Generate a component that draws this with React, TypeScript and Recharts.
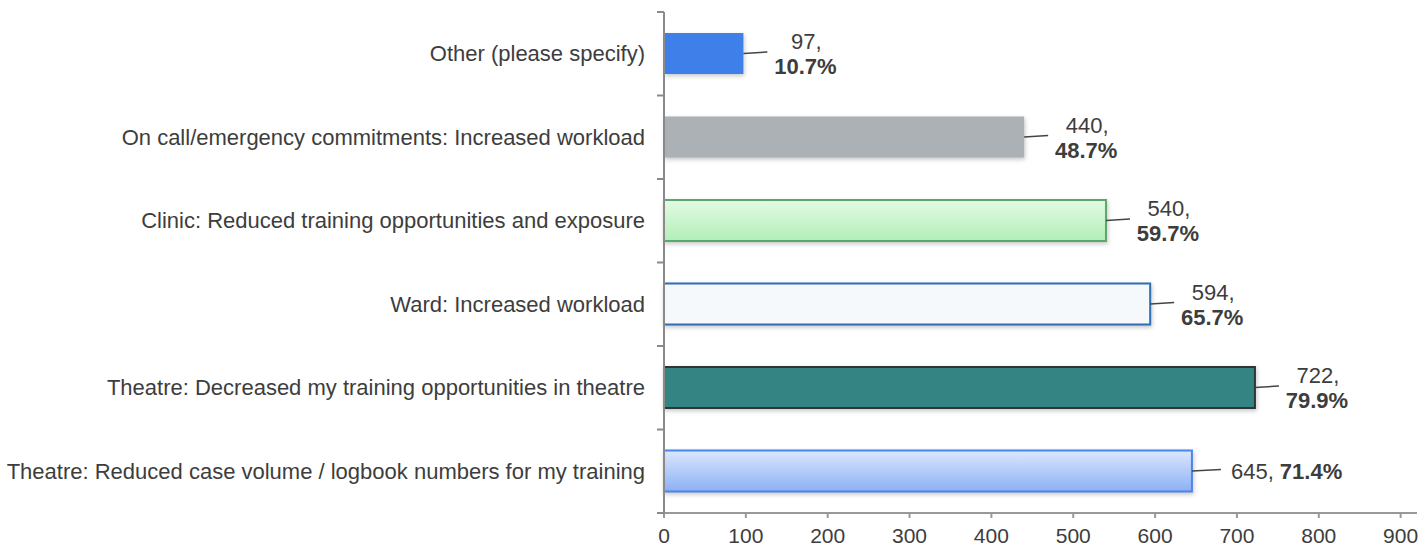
import { BarChart, Bar, XAxis, YAxis, Cell, LabelList } from 'recharts';

// values
const categories = [
  'Other (please specify)',
  'On call/emergency commitments: Increased workload',
  'Clinic: Reduced training opportunities and exposure',
  'Ward: Increased workload',
  'Theatre: Decreased my training opportunities in theatre',
  'Theatre: Reduced case volume / logbook numbers for my training',
];
const counts = [97, 440, 540, 594, 722, 645];
const percents = ['10.7%', '48.7%', '59.7%', '65.7%', '79.9%', '71.4%'];
const xTicks = [0, 100, 200, 300, 400, 500, 600, 700, 800, 900];

const data = categories.map((name, i) => ({ name, count: counts[i], pct: percents[i] }));

const WIDTH = 1428;
const HEIGHT = 547;
const MARGIN = { top: 12, right: 11, bottom: 0, left: 0 };
const X_AXIS_H = 34;
const Y_AXIS_W = 664;
const BAND = (HEIGHT - MARGIN.top - MARGIN.bottom - X_AXIS_H) / categories.length;

const fills = ['#3f7fe9', '#abb1b4', 'url(#gGreen)', '#f6f9fc', '#358484', 'url(#gBlue)'];
const strokes = ['none', 'none', '#5aa86a', '#2f6fb3', '#2d3535', '#4a86e8'];

const TEXT = '#3d3d3d';
const FONT = 'Liberation Sans, Arial, Helvetica, sans-serif';

const CategoryTick = (props: any) => {
  const { x, y, payload, index } = props;
  const top = y - BAND / 2;
  return (
    <g>
      <text x={x - 19} y={y} textAnchor="end" dominantBaseline="central"
        fill={TEXT} fontSize={22} fontFamily={FONT}>
        {payload.value}
      </text>
      <line x1={x - 7} x2={x} y1={top} y2={top} stroke="#8a8a8a" strokeWidth={2} />
      {index === categories.length - 1 && (
        <line x1={x - 7} x2={x} y1={y + BAND / 2} y2={y + BAND / 2} stroke="#8a8a8a" strokeWidth={2} />
      )}
    </g>
  );
};

const ValueLabel = (props: any) => {
  const { x, y, width, height, index } = props;
  const end = x + width;
  const cy = y + height / 2;
  const last = index === categories.length - 1;
  const lx = end + (last ? 29 : 24);
  return (
    <g fontFamily={FONT} fontSize={22} fill={TEXT}>
      <line x1={end} x2={lx} y1={cy} y2={cy - 1.5} stroke="#444" strokeWidth={1.5} />
      {last ? (
        <text x={lx + 10} y={cy} dominantBaseline="central">
          {counts[index]}, <tspan fontWeight="bold">{percents[index]}</tspan>
        </text>
      ) : (
        <>
          <text x={end + 63} y={cy - 12} textAnchor="middle" dominantBaseline="central">
            {counts[index]},
          </text>
          <text x={end + 62} y={cy + 13} textAnchor="middle" dominantBaseline="central" fontWeight="bold">
            {percents[index]}
          </text>
        </>
      )}
    </g>
  );
};

export default function App() {
  return (
    <div style={{ position: 'absolute', left: 0, top: 0, background: '#fff' }}>
      <svg width={0} height={0} style={{ position: 'absolute' }}>
        <defs>
          <linearGradient id="gGreen" x1="0" y1="0" x2="0" y2="1">
            <stop offset="0%" stopColor="#e2fbe4" />
            <stop offset="100%" stopColor="#b3eeb7" />
          </linearGradient>
          <linearGradient id="gBlue" x1="0" y1="0" x2="0" y2="1">
            <stop offset="0%" stopColor="#dbe7fd" />
            <stop offset="100%" stopColor="#8cb0f5" />
          </linearGradient>
        </defs>
      </svg>
      <BarChart width={WIDTH} height={HEIGHT} data={data} layout="vertical" margin={MARGIN}>
        <XAxis
          type="number"
          dataKey="count"
          domain={[0, 920]}
          ticks={xTicks}
          height={X_AXIS_H}
          axisLine={{ stroke: '#999', strokeWidth: 2 }}
          tickLine={{ stroke: '#999', strokeWidth: 2 }}
          tickSize={5}
          tickMargin={10}
          tick={{ fill: TEXT, fontSize: 21, fontFamily: FONT }}
          interval={0}
        />
        <YAxis
          type="category"
          dataKey="name"
          width={Y_AXIS_W}
          axisLine={{ stroke: '#8a8a8a', strokeWidth: 2 }}
          tickLine={false}
          tickSize={0}
          tickMargin={0}
          tick={<CategoryTick />}
          interval={0}
        />
        <Bar dataKey="count" barSize={41} isAnimationActive={false}>
          {data.map((d, i) => (
            <Cell
              key={d.name}
              fill={fills[i]}
              stroke={strokes[i]}
              strokeWidth={2}
              style={{ filter: 'drop-shadow(1px 2px 2px rgba(0,0,0,0.22))' }}
            />
          ))}
          <LabelList dataKey="count" content={<ValueLabel />} />
        </Bar>
      </BarChart>
    </div>
  );
}
